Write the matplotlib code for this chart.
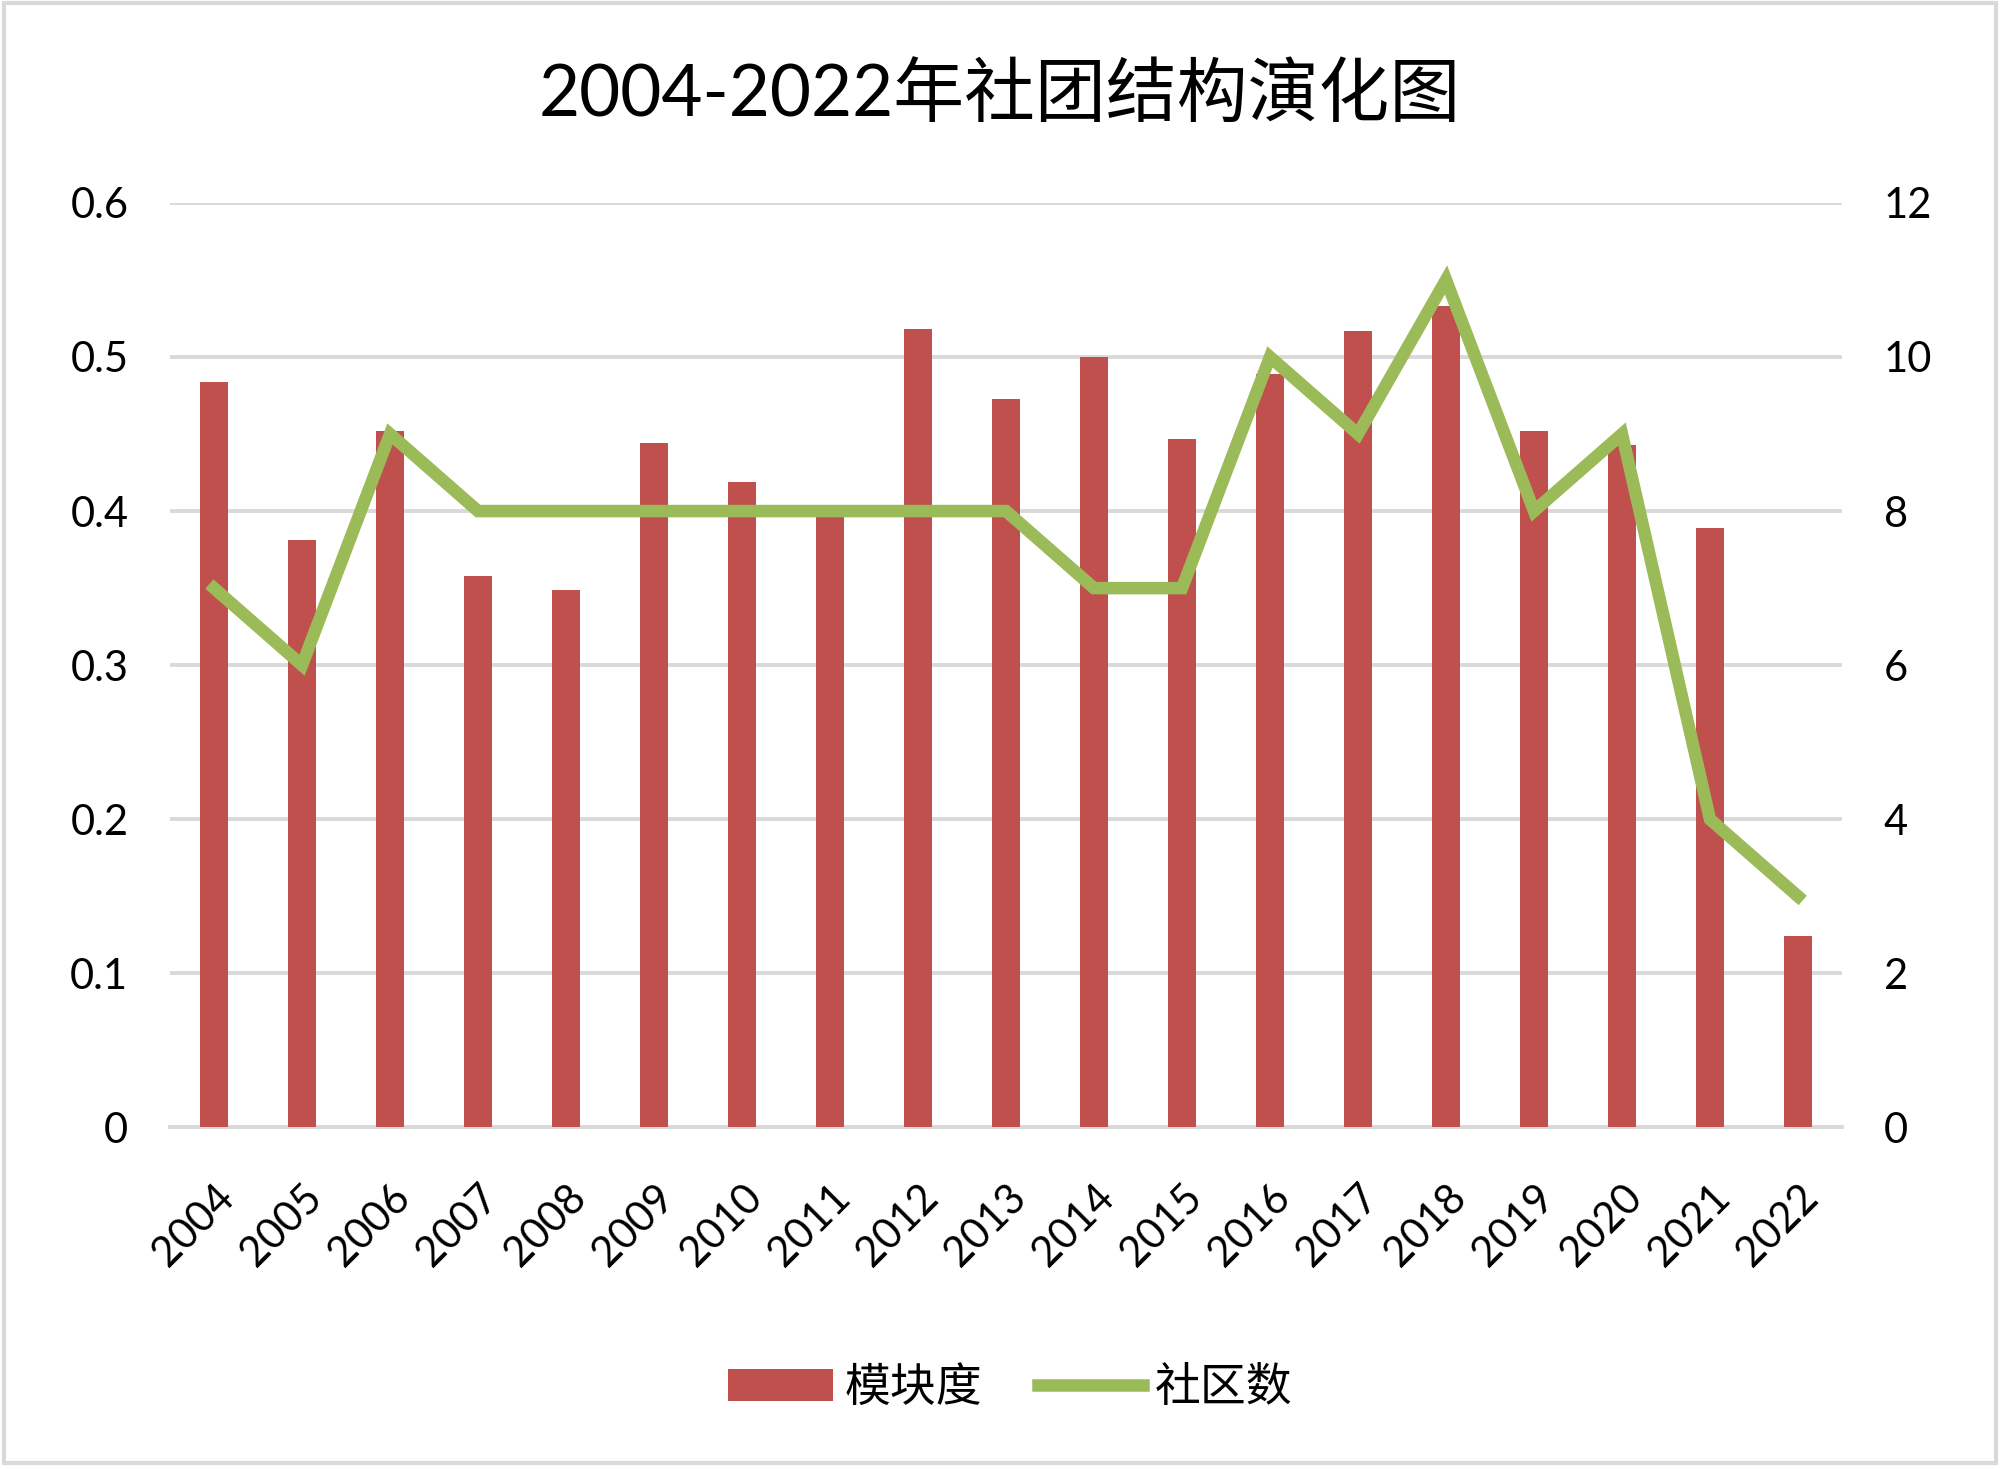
import matplotlib
matplotlib.use("Agg")
import matplotlib.pyplot as plt
from matplotlib.patches import Rectangle

plt.rcParams['font.family'] = ['Lato', 'Noto Sans CJK SC', 'DejaVu Sans']

years = [str(y) for y in range(2004, 2023)]
modularity = [0.484, 0.381, 0.452, 0.358, 0.349, 0.444, 0.419, 0.399, 0.518, 0.473,
              0.500, 0.447, 0.489, 0.517, 0.533, 0.452, 0.443, 0.389, 0.124]
communities = [7, 6, 9, 8, 8, 8, 8, 8, 8, 8, 7, 7, 10, 9, 11, 8, 9, 4, 3]

bar_color = '#C0504D'
line_color = '#9BBB59'
grid_color = '#D9D9D9'

fig = plt.figure(figsize=(20, 14.7), dpi=100)
ax = fig.add_axes([0.085, 0.233, 0.836, 0.629])
x = list(range(len(years)))

ax.bar(x, modularity, width=0.32, color=bar_color, zorder=3, label='模块度')
ax.set_ylim(0, 0.6)
ax.set_yticks([0, 0.1, 0.2, 0.3, 0.4, 0.5, 0.6])
ax.set_yticklabels(['0', '0.1', '0.2', '0.3', '0.4', '0.5', '0.6'])
ax.set_xlim(-0.5, len(years) - 0.5)
ax.set_xticks(x)
ax.set_xticklabels(years, rotation=45, ha='right', rotation_mode='anchor')
ax.yaxis.grid(True, color=grid_color, linewidth=2.8, zorder=0)
ax.set_axisbelow(True)
for s in ['top', 'right', 'left']:
    ax.spines[s].set_visible(False)
ax.spines['bottom'].set_color(grid_color)
ax.spines['bottom'].set_linewidth(2.8)
ax.tick_params(axis='both', length=0, labelsize=30)
ax.tick_params(axis='y', pad=30)
ax.tick_params(axis='x', pad=36)

ax2 = ax.twinx()
ax2.plot(x, communities, color=line_color, linewidth=9, zorder=4,
         solid_joinstyle='miter', label='社区数')
ax2.set_ylim(0, 12)
ax2.set_yticks([0, 2, 4, 6, 8, 10, 12])
for s in ['top', 'right', 'left', 'bottom']:
    ax2.spines[s].set_visible(False)
ax2.tick_params(axis='y', length=0, labelsize=30, pad=30)

fig.suptitle('2004-2022年社团结构演化图', fontsize=51, y=0.935, va='center')

h1, l1 = ax.get_legend_handles_labels()
h2, l2 = ax2.get_legend_handles_labels()
fig.legend(h1 + h2, l1 + l2, loc='center', bbox_to_anchor=(0.505, 0.056), ncol=2,
           frameon=False, fontsize=33, handlelength=2.3, handletextpad=0.25,
           columnspacing=1.2)

fig.patches.append(Rectangle((0.002, 0.005), 0.996, 0.993, transform=fig.transFigure,
                             fill=False, edgecolor=grid_color, linewidth=3))

fig.savefig('out.png', dpi=100)
